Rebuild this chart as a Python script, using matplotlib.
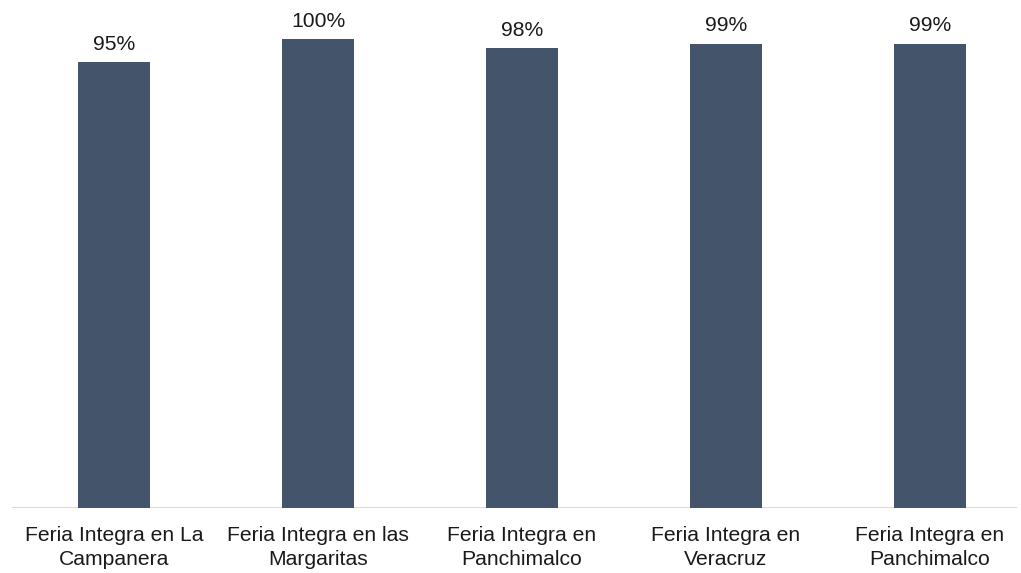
import matplotlib.pyplot as plt

# Datos
ferias = ['Feria Integra en La\nCampanera',
          'Feria Integra en las\nMargaritas',
          'Feria Integra en\nPanchimalco',
          'Feria Integra en\nVeracruz',
          'Feria Integra en\nPanchimalco']
porcentajes = [95, 100, 98, 99, 99]

plt.rcParams['font.family'] = ['Liberation Sans', 'DejaVu Sans']

fig = plt.figure(figsize=(10.21, 5.73), dpi=100)
ax = fig.add_axes([0, 0.1134, 1, 0.8866])

pos = list(range(len(ferias)))
bars = ax.bar(pos, porcentajes, width=0.353, color='#44546A', zorder=2)

for b, v in zip(bars, porcentajes):
    ax.annotate(f'{v}%', (b.get_x() + b.get_width() / 2, v),
                xytext=(0, 6), textcoords='offset points',
                ha='center', va='bottom', fontsize=15.2, color='#1a1a1a',
                annotation_clip=False)

ax.set_xlim(-0.559, 4.446)
ax.set_ylim(0, 108.3)
ax.set_xticks(pos)
ax.set_xticklabels(ferias, fontsize=15.2, color='#1a1a1a', linespacing=1.3)
ax.tick_params(axis='x', length=0, pad=13)
ax.set_yticks([])
for s in ax.spines.values():
    s.set_visible(False)
ax.axhline(0, xmin=0.0125, xmax=0.995, color='#D9D9D9', lw=1.5, zorder=1)

plt.savefig('out.png', dpi=100)
